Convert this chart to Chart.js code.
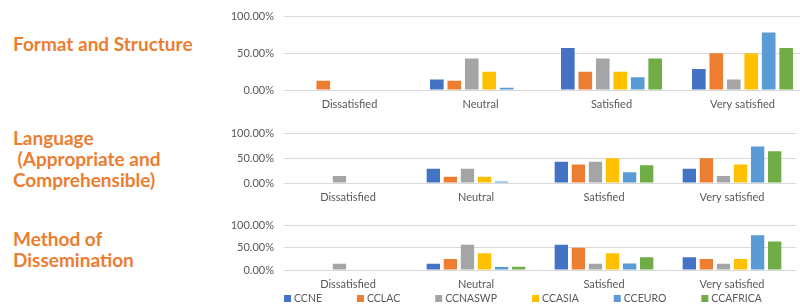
<!DOCTYPE html>
<html>
<head>
<meta charset="utf-8">
<script src="https://cdn.jsdelivr.net/npm/chart.js@4"></script>
<style>
    body { margin: 0; width: 800px; height: 308px; overflow: hidden; background: #fff; position: relative; font-family: Lato, sans-serif; }
    canvas { position: absolute; }
    .title { position: absolute; left: 13px; color: #ED7D31; font-weight: bold; font-size: 19px; line-height: 21px; white-space: pre; }
</style>
</head>
<body>
<div class="title" style="top:33px">Format and Structure</div>
<div class="title" style="top:127px">Language
 (Appropriate and
Comprehensible)</div>
<div class="title" style="top:228px">Method of
Dissemination</div>

<canvas id="formatChart" width="608" height="112" style="left:200px;top:0px"></canvas>
<canvas id="languageChart" width="600" height="88" style="left:200px;top:117px"></canvas>
<canvas id="methodChart" width="600" height="99" style="left:200px;top:209px"></canvas>

<script>
var categories = ["Dissatisfied", "Neutral", "Satisfied", "Very satisfied"];
var centres = ["CCNE", "CCLAC", "CCNASWP", "CCASIA", "CCEURO", "CCAFRICA"];
var yTicks = [0, 50, 100];

// one row per centre, one value (%) per category
var formatValues = [
    [0, 14.3, 57.1, 28.6],
    [12.5, 12.5, 25, 50],
    [0, 42.9, 42.9, 14.3],
    [0, 25, 25, 50],
    [0, 3, 17.4, 78.3],
    [0, 0, 42.9, 57.1]
];
var languageValues = [
    [0, 28.6, 42.9, 28.6],
    [0, 12.5, 37.5, 50],
    [14.3, 28.6, 42.9, 14.3],
    [0, 12.5, 50, 37.5],
    [0, 3, 21.7, 73.9],
    [0, 0, 35.7, 64.3]
];
var methodValues = [
    [0, 14.3, 57.1, 28.6],
    [0, 25, 50, 25],
    [14.3, 57.1, 14.3, 14.3],
    [0, 37.5, 37.5, 25],
    [0, 7, 14.7, 78.3],
    [0, 7.1, 28.6, 64.3]
];

var colours = ["#4472C4", "#ED7D31", "#A5A5A5", "#FFC000", "#5B9BD5", "#70AD47"];
var textColour = "#595959";
var gridColour = "#D9D9D9";

// legend under the last panel, drawn like the Excel one
var bottomLegend = {
    id: 'bottomLegend',
    afterDraw: function (chart) {
        var ctx = chart.ctx;
        var x = chart.chartArea.left;
        var y = chart.height - 9;
        ctx.save();
        ctx.font = "10.5px Lato";
        ctx.textBaseline = "middle";
        chart.data.datasets.forEach(function (ds) {
            ctx.fillStyle = ds.backgroundColor;
            ctx.fillRect(x, y - 4, 7, 7);
            ctx.fillStyle = textColour;
            ctx.fillText(ds.label, x + 10, y);
            x += 10 + ctx.measureText(ds.label).width + 35;
        });
        ctx.restore();
    }
};

function makePanel(id, values, padding, withLegend) {
    var datasets = [];
    var i;
    for (i = 0; i < centres.length; i++) {
        datasets.push({
            label: centres[i],
            data: values[i],
            backgroundColor: colours[i],
            categoryPercentage: 0.8,
            barPercentage: 0.78
        });
    }
    var ctx = document.getElementById(id).getContext('2d');
    return new Chart(ctx, {
        type: 'bar',
        data: { labels: categories, datasets: datasets },
        plugins: withLegend ? [bottomLegend] : [],
        options: {
            responsive: false,
            animation: false,
            layout: { padding: padding },
            plugins: { legend: { display: false }, tooltip: { enabled: false } },
            scales: {
                x: {
                    grid: { display: false, drawTicks: false },
                    border: { display: false },
                    ticks: { color: textColour, font: { family: "Lato", size: 11 }, padding: 8 },
                    afterFit: function (scale) { scale.height = 22; }
                },
                y: {
                    min: 0,
                    max: 100,
                    afterBuildTicks: function (scale) {
                        scale.ticks = yTicks.map(function (v) { return { value: v }; });
                    },
                    grid: { color: gridColour, drawTicks: false },
                    border: { display: false },
                    ticks: {
                        color: textColour,
                        font: { family: "Lato", size: 11 },
                        padding: 10,
                        callback: function (v) { return v.toFixed(2) + "%"; }
                    },
                    afterFit: function (scale) { scale.width = 84; }
                }
            }
        }
    });
}

makePanel('formatChart', formatValues, { top: 13, right: 0, bottom: 0, left: 0 }, false);
makePanel('languageChart', languageValues, { top: 13, right: 4, bottom: 0, left: 0 }, false);
makePanel('methodChart', methodValues, { top: 13, right: 4, bottom: 16, left: 0 }, true);
</script>
</body>
</html>
